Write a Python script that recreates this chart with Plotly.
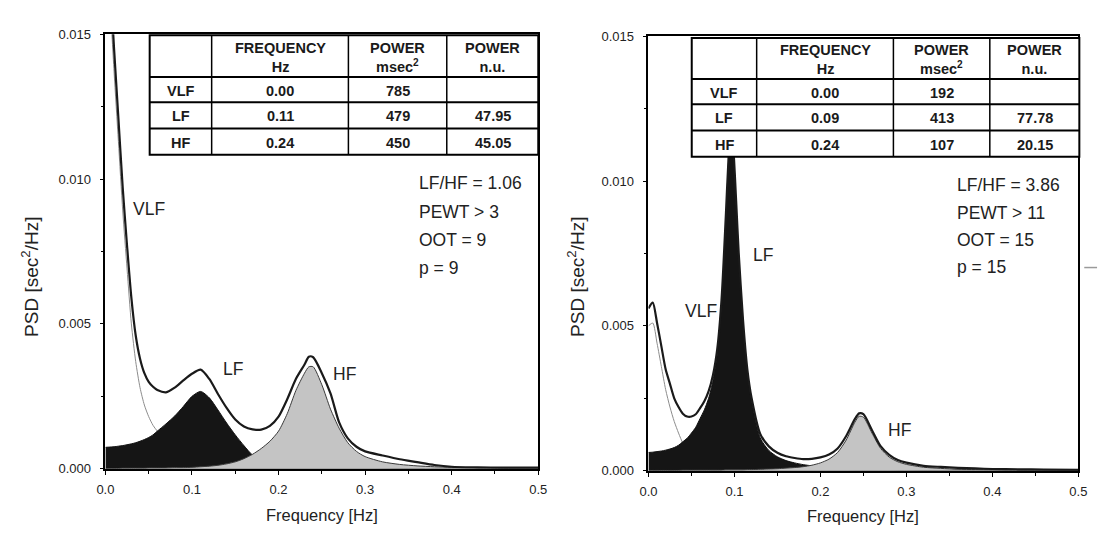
import plotly.graph_objects as go

W, H = 1109, 539
FONT = "Liberation Sans, Arial, Helvetica, sans-serif"

# ---------------- data: panel A (left) ----------------
freq_a = [0.0, 0.005, 0.01, 0.015, 0.02, 0.025, 0.03, 0.035, 0.04, 0.045, 0.05, 0.055, 0.06,
          0.07, 0.08, 0.09, 0.10, 0.11, 0.12, 0.13, 0.14, 0.15, 0.16, 0.17, 0.18, 0.19, 0.20,
          0.21, 0.22, 0.23, 0.235, 0.24, 0.25, 0.26, 0.27, 0.28, 0.29, 0.30, 0.32, 0.34, 0.36,
          0.38, 0.40, 0.43, 0.46, 0.50]
total_a = [0.0215, 0.0172, 0.0145, 0.0121, 0.0097, 0.0077, 0.0059, 0.0046, 0.0038, 0.0033, 0.0030,
           0.00283, 0.00272, 0.00264, 0.00280, 0.00305, 0.00328, 0.00342, 0.00310, 0.00258, 0.00210,
           0.00170, 0.00146, 0.00136, 0.00135, 0.00148, 0.00180, 0.00240, 0.00310, 0.00360, 0.00387,
           0.00385, 0.00330, 0.00260, 0.00160, 0.00105, 0.00076, 0.00060, 0.00046, 0.00033, 0.00023,
           0.00013, 0.00007, 0.00005, 0.00004, 0.00004]
vlf_a = [0.0207, 0.0164, 0.0137, 0.0113, 0.0089, 0.0069, 0.0050, 0.0037, 0.0028, 0.0022, 0.0018,
         0.0015, 0.0013, 0.0010, 0.0008, 0.00068, 0.00058, 0.0005, 0.00044, 0.00038, 0.00033,
         0.00029, 0.00026, 0.00023, 0.0002, 0.00018, 0.00016, 0.00015, 0.00014, 0.00013, 0.00012,
         0.00012, 0.00011, 0.0001, 0.0001, 0.00009, 0.00009, 0.00008, 0.00008, 0.00007, 0.00006,
         0.00005, 0.00004, 0.00004, 0.00003, 0.00003]
lf_a = [0.00074, 0.00075, 0.00076, 0.00078, 0.0008, 0.00083, 0.00086, 0.0009, 0.00095, 0.00101,
        0.00108, 0.00117, 0.0013, 0.00155, 0.00182, 0.00215, 0.0025, 0.00267, 0.00245, 0.00203,
        0.00158, 0.00117, 0.0008, 0.00047, 0.00032, 0.00024, 0.00019, 0.00016, 0.00014, 0.00012,
        0.00011, 0.0001, 0.00009, 0.00008, 0.00007, 0.00006, 0.00005, 0.00005, 0.00004, 0.00003,
        0.00003, 0.00002, 0.00002, 0.00002, 0.00001, 0.00001]
hf_a = [0.00001, 0.00001, 0.00001, 0.00001, 0.00002, 0.00002, 0.00002, 0.00002, 0.00002, 0.00002,
        0.00003, 0.00003, 0.00003, 0.00003, 0.00004, 0.00004, 0.00005, 0.00007, 0.00009, 0.00012,
        0.00017, 0.00024, 0.00035, 0.0005, 0.0007, 0.00095, 0.0013, 0.0019, 0.0027, 0.0033,
        0.00352, 0.00352, 0.0029, 0.00206, 0.0014, 0.0009, 0.0006, 0.00042, 0.00024, 0.00015,
        0.0001, 0.00007, 0.00005, 0.00003, 0.00002, 0.00002]

# ---------------- data: panel B (right) ----------------
freq_b = [0.0, 0.005, 0.01, 0.015, 0.02, 0.025, 0.03, 0.035, 0.04, 0.045, 0.05, 0.055, 0.06,
          0.065, 0.07, 0.075, 0.08, 0.085, 0.09, 0.093, 0.096, 0.099, 0.102, 0.105, 0.11, 0.115,
          0.12, 0.13, 0.14, 0.15, 0.16, 0.17, 0.18, 0.19, 0.20, 0.21, 0.22, 0.23, 0.24, 0.245,
          0.25, 0.26, 0.27, 0.28, 0.29, 0.30, 0.32, 0.34, 0.36, 0.38, 0.40, 0.43, 0.46, 0.50]
total_b = [0.0056, 0.0058, 0.0051, 0.0043, 0.0035, 0.0030, 0.0025, 0.0022, 0.00197, 0.00187,
           0.00187, 0.00195, 0.00216, 0.0024, 0.00275, 0.0033, 0.0042, 0.0059, 0.0088, 0.0107,
           0.0119, 0.0110, 0.0093, 0.0075, 0.0052, 0.0035, 0.0025, 0.00127, 0.00084, 0.00062,
           0.0005, 0.00044, 0.0004, 0.00041, 0.00046, 0.00056, 0.00077, 0.0012, 0.00178, 0.00198,
           0.00195, 0.0014, 0.00085, 0.00055, 0.00037, 0.00028, 0.00017, 0.00013, 0.0001, 0.00008,
           0.00006, 0.00005, 0.00004, 0.00003]
vlf_b = [0.0050, 0.0051, 0.0044, 0.0036, 0.0028, 0.0022, 0.0017, 0.0013, 0.00095, 0.00072, 0.00055,
         0.00043, 0.00034, 0.00028, 0.00023, 0.0002, 0.00017, 0.00015, 0.00014, 0.00013, 0.00013,
         0.00012, 0.00012, 0.00011, 0.0001, 0.0001, 0.00009, 0.00009, 0.00008, 0.00007, 0.00006,
         0.00006, 0.00005, 0.00005, 0.00005, 0.00004, 0.00004, 0.00004, 0.00003, 0.00003, 0.00003,
         0.00003, 0.00003, 0.00003, 0.00002, 0.00002, 0.00002, 0.00002, 0.00002, 0.00002, 0.00001,
         0.00001, 0.00001, 0.00001]
lf_b = [0.00063, 0.00064, 0.00066, 0.00068, 0.00071, 0.00075, 0.0008, 0.00088, 0.001, 0.00112,
        0.0013, 0.0015, 0.0018, 0.0021, 0.0025, 0.0031, 0.0040, 0.0057, 0.0086, 0.0106, 0.0118,
        0.0109, 0.0091, 0.0074, 0.0051, 0.0034, 0.0024, 0.00113, 0.0007, 0.00048, 0.00035,
        0.00027, 0.00021, 0.00017, 0.00014, 0.00012, 0.0001, 0.00009, 0.00008, 0.00007, 0.00007,
        0.00006, 0.00005, 0.00005, 0.00004, 0.00004, 0.00003, 0.00003, 0.00003, 0.00002, 0.00002,
        0.00002, 0.00001, 0.00001]
hf_b = [0.00001, 0.00001, 0.00001, 0.00001, 0.00001, 0.00001, 0.00001, 0.00001, 0.00002, 0.00002,
        0.00002, 0.00002, 0.00002, 0.00002, 0.00002, 0.00002, 0.00002, 0.00002, 0.00003, 0.00003,
        0.00003, 0.00003, 0.00003, 0.00003, 0.00003, 0.00004, 0.00004, 0.00005, 0.00006, 0.00007,
        0.00009, 0.00011, 0.00014, 0.00019, 0.00027, 0.0004, 0.00063, 0.00106, 0.00167, 0.00188,
        0.00185, 0.0013, 0.00077, 0.00047, 0.00031, 0.00022, 0.00012, 0.00008, 0.00005, 0.00004,
        0.00003, 0.00002, 0.00002, 0.00001]

# ---------------- tables & text ----------------
table_header = ["", "FREQUENCY<br>Hz", "POWER<br>msec<sup>2</sup>", "POWER<br>n.u."]
table_a_rows = [["VLF", "0.00", "785", ""],
                ["LF", "0.11", "479", "47.95"],
                ["HF", "0.24", "450", "45.05"]]
table_b_rows = [["VLF", "0.00", "192", ""],
                ["LF", "0.09", "413", "77.78"],
                ["HF", "0.24", "107", "20.15"]]
stats_a = ["LF/HF = 1.06", "PEWT > 3", "OOT = 9", "p = 9"]
stats_b = ["LF/HF = 3.86", "PEWT > 11", "OOT = 15", "p = 15"]
x_ticks = [0.0, 0.1, 0.2, 0.3, 0.4, 0.5]
y_ticks = [0.0, 0.005, 0.010, 0.015]


def fx(p):
    return p / W


def fy(p):
    return 1 - p / H


panels = [
    dict(xa="x", ya="y", freq=freq_a, total=total_a, vlf=vlf_a, lf=lf_a, hf=hf_a,
         xpx=(98, 538), ypx=(28, 475),
         cols=[143, 206, 345, 445, 538], rows=[29, 72, 98, 125, 152], table=table_a_rows,
         stats=stats_a, stats_x=415, stats_y=[181, 211, 240, 268],
         labels=[("VLF", 142, 208), ("LF", 228, 372), ("HF", 341, 377)],
         ytitle=(22, 278), xtitle=(318, 523)),
    dict(xa="x2", ya="y2", freq=freq_b, total=total_b, vlf=vlf_b, lf=lf_b, hf=hf_b,
         xpx=(650, 1087), ypx=(30, 477),
         cols=[694, 760, 899, 997, 1088], rows=[32, 74, 100, 127, 154], table=table_b_rows,
         stats=stats_b, stats_x=962, stats_y=[183, 212, 240, 267],
         labels=[("VLF", 703, 313), ("LF", 766, 255), ("HF", 905, 435)],
         ytitle=(577, 278), xtitle=(868, 524)),
]

fig = go.Figure()
spl = dict(shape="spline", smoothing=0.7)
for p in panels:
    ax = dict(xaxis=p["xa"], yaxis=p["ya"], showlegend=False, hoverinfo="skip")
    fig.add_trace(go.Scatter(x=p["freq"], y=p["vlf"], mode="lines",
                             line=dict(color="#8c8c8c", width=1, **spl), **ax))
    fig.add_trace(go.Scatter(x=p["freq"], y=p["lf"], mode="lines", fill="tozeroy",
                             fillcolor="#151515", line=dict(color="#111111", width=1, **spl), **ax))
    fig.add_trace(go.Scatter(x=p["freq"], y=p["hf"], mode="lines", fill="tozeroy",
                             fillcolor="#c4c4c4", line=dict(color="#3a3a3a", width=1, **spl), **ax))
    fig.add_trace(go.Scatter(x=p["freq"], y=p["total"], mode="lines",
                             line=dict(color="#1a1a1a", width=2.2, **spl), **ax))

shapes = []
annotations = []
layout_axes = {}
for i, p in enumerate(panels):
    xname = "xaxis" if i == 0 else "xaxis2"
    yname = "yaxis" if i == 0 else "yaxis2"
    tickfont = dict(family=FONT, size=13, color="#222222")
    layout_axes[xname] = dict(
        domain=[fx(p["xpx"][0]), fx(p["xpx"][1])], range=[0, 0.5], anchor=p["ya"],
        tickvals=x_ticks, ticktext=["%.1f" % v for v in x_ticks],
        ticks="outside", ticklen=4, tickwidth=1, tickcolor="black", ticklabelstandoff=4,
        minor=dict(dtick=0.05, ticks="outside", ticklen=3, tickcolor="black"),
        showline=True, mirror=True, linecolor="black", linewidth=1.6,
        showgrid=False, zeroline=False, tickfont=tickfont, fixedrange=True)
    layout_axes[yname] = dict(
        domain=[fy(p["ypx"][1]), fy(p["ypx"][0])], range=[0, 0.015], anchor=p["xa"],
        tickvals=y_ticks, ticktext=["%.3f" % v for v in y_ticks],
        ticks="outside", ticklen=4, tickwidth=1, tickcolor="black", ticklabelstandoff=6,
        minor=dict(dtick=0.0025, ticks="outside", ticklen=3, tickcolor="black"),
        showline=True, mirror=True, linecolor="black", linewidth=1.6,
        showgrid=False, zeroline=False, tickfont=tickfont, fixedrange=True)

    cx, ry = p["cols"], p["rows"]
    shapes.append(dict(type="rect", xref="paper", yref="paper", layer="above",
                       x0=fx(cx[0]), x1=fx(cx[-1]), y0=fy(ry[-1]), y1=fy(ry[0]),
                       fillcolor="white", line=dict(color="black", width=2)))
    for r in ry[1:-1]:
        shapes.append(dict(type="line", xref="paper", yref="paper", layer="above",
                           x0=fx(cx[0]), x1=fx(cx[-1]), y0=fy(r), y1=fy(r),
                           line=dict(color="black", width=2)))
    for c in cx[1:-1]:
        shapes.append(dict(type="line", xref="paper", yref="paper", layer="above",
                           x0=fx(c), x1=fx(c), y0=fy(ry[0]), y1=fy(ry[-1]),
                           line=dict(color="black", width=1.5)))
    cell_rows = [table_header] + p["table"]
    for ri, row in enumerate(cell_rows):
        for ci, txt in enumerate(row):
            if not txt:
                continue
            annotations.append(dict(
                xref="paper", yref="paper", x=fx((cx[ci] + cx[ci + 1]) / 2),
                y=fy((ry[ri] + ry[ri + 1]) / 2 + 1), text="<b>%s</b>" % txt, showarrow=False,
                xanchor="center", yanchor="middle",
                font=dict(family=FONT, size=14.5, color="#1a1a1a")))
    for txt, yy in zip(p["stats"], p["stats_y"]):
        annotations.append(dict(xref="paper", yref="paper", x=fx(p["stats_x"]), y=fy(yy),
                                text=txt, showarrow=False, xanchor="left", yanchor="middle",
                                font=dict(family=FONT, size=17.5, color="#222222")))
    for txt, xx, yy in p["labels"]:
        annotations.append(dict(xref="paper", yref="paper", x=fx(xx), y=fy(yy), text=txt,
                                showarrow=False, xanchor="center", yanchor="middle",
                                font=dict(family=FONT, size=17.5, color="#222222")))
    annotations.append(dict(xref="paper", yref="paper", x=fx(p["ytitle"][0]), y=fy(p["ytitle"][1]),
                            text="PSD [sec<sup>2</sup>/Hz]", textangle=-90, showarrow=False,
                            xanchor="center", yanchor="middle",
                            font=dict(family=FONT, size=19, color="#222222")))
    annotations.append(dict(xref="paper", yref="paper", x=fx(p["xtitle"][0]), y=fy(p["xtitle"][1]),
                            text="Frequency [Hz]", showarrow=False, xanchor="center",
                            yanchor="middle", font=dict(family=FONT, size=16.5, color="#222222")))

# small scan mark at right edge
shapes.append(dict(type="line", xref="paper", yref="paper", x0=fx(1093), x1=fx(1106),
                   y0=fy(268), y1=fy(268), line=dict(color="#9a9a9a", width=1.5)))

fig.update_layout(
    width=W, height=H, margin=dict(l=0, r=0, t=0, b=0),
    paper_bgcolor="white", plot_bgcolor="white",
    shapes=shapes, annotations=annotations, showlegend=False,
    **layout_axes)

fig.write_html("out.html")
